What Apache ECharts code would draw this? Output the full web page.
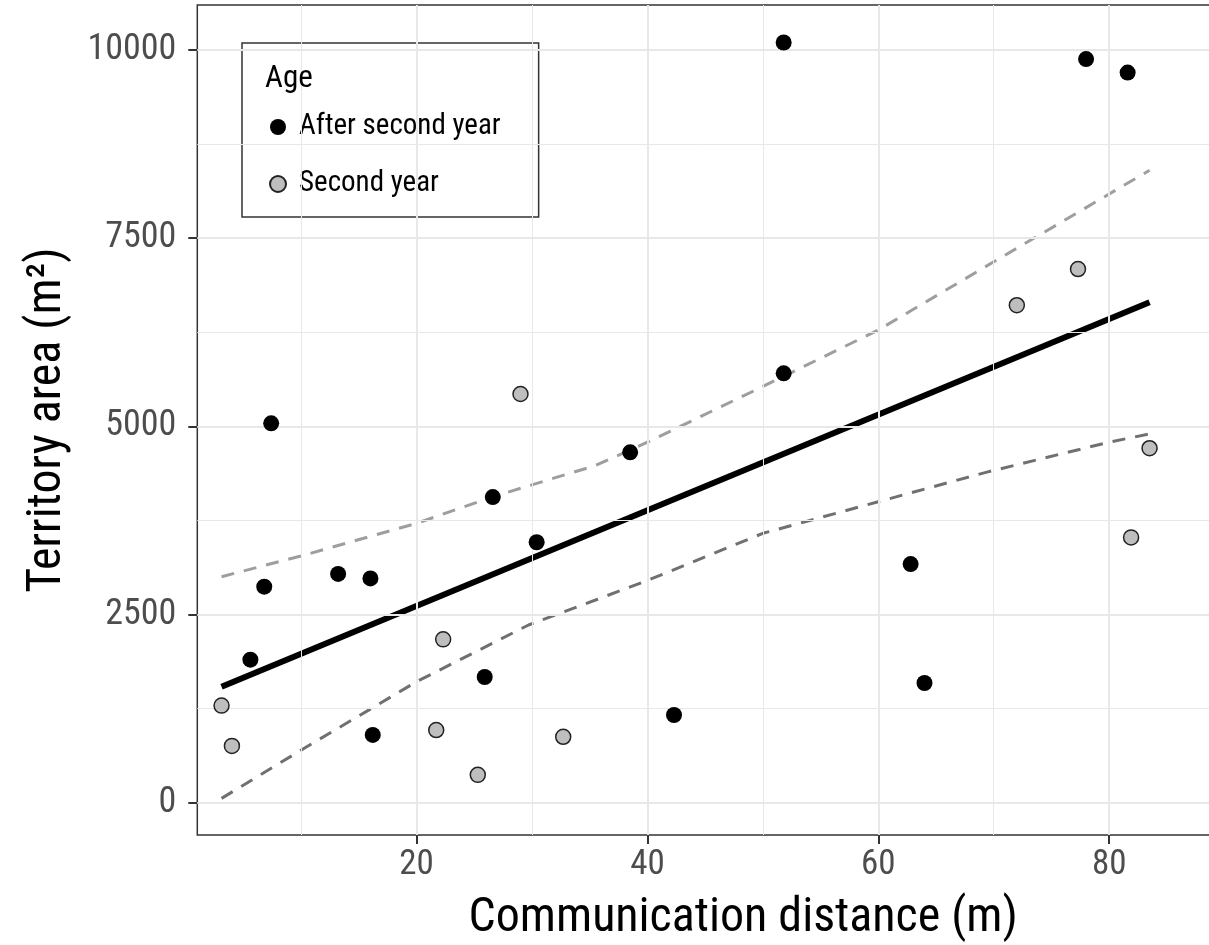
<!DOCTYPE html>
<html>
<head>
<meta charset="utf-8">
<script src="https://cdn.jsdelivr.net/npm/echarts@6/dist/echarts.min.js"></script>
<style>
html, body { margin: 0; padding: 0; background: #fff; }
#chartDom { width: 1209px; height: 945px; }
</style>
</head>
<body>
<div id="chartDom"></div>
<script>
// birds: after second year
var afterX = [5.6, 6.8, 7.4, 13.2, 16.0, 16.2, 25.9, 26.6, 30.4, 38.5, 42.3, 51.8, 51.8, 62.8, 64.0, 78.0, 81.6];
var afterY = [1900, 2870, 5040, 3040, 2980, 900, 1670, 4060, 3460, 4655, 1165, 10100, 5705, 3170, 1590, 9880, 9700];
// birds: second year
var secondX = [3.1, 4.0, 21.7, 22.3, 25.3, 29.0, 32.7, 72.0, 77.3, 81.9, 83.5];
var secondY = [1290, 755, 965, 2170, 370, 5430, 875, 6610, 7090, 3525, 4710];
// fitted line + confidence band
var fitX = [3.1, 83.5];
var fitY = [1540, 6650];
var upperX = [3.1, 10.3, 20.0, 26.6, 35.5, 40.1, 50.0, 60.0, 70.0, 83.5];
var upperY = [3003, 3291, 3712, 4065, 4480, 4796, 5530, 6280, 7186, 8402];
var lowerX = [3.1, 10.3, 20.0, 29.7, 35.5, 40.1, 50.0, 60.0, 69.4, 80.0, 83.5];
var lowerY = [58, 727, 1608, 2361, 2693, 2959, 3579, 3999, 4392, 4790, 4900];
// ticks
var xTicks = [20, 40, 60, 80];
var xMinor = [10, 30, 50, 70, 90];
var yTicks = [0, 2500, 5000, 7500, 10000];
var yMinor = [1250, 3750, 6250, 8750];

var fontName = '"Roboto Condensed", "Liberation Sans Narrow", "DejaVu Sans Condensed", Roboto, sans-serif';

function zip(xs, ys) {
  return xs.map(function (x, i) { return [x, ys[i]]; });
}

var gridLines = [];
xTicks.forEach(function (v) { gridLines.push({ xAxis: v, lineStyle: { width: 2 } }); });
yTicks.forEach(function (v) { gridLines.push({ yAxis: v, lineStyle: { width: 2 } }); });
xMinor.forEach(function (v) { gridLines.push({ xAxis: v, lineStyle: { width: 1 } }); });
yMinor.forEach(function (v) { gridLines.push({ yAxis: v, lineStyle: { width: 1 } }); });

var chartDom = document.getElementById('chartDom');
var myChart = echarts.init(chartDom);
var option = {
  animation: false,
  backgroundColor: '#fff',
  textStyle: { fontFamily: fontName },
  grid: {
    left: 197.3,
    top: 5,
    right: -80,
    bottom: 110,
    show: true,
    backgroundColor: '#fff',
    borderColor: '#333',
    borderWidth: 1.5,
    containLabel: false,
    outerBoundsMode: 'none'
  },
  legend: {
    data: ['After second year', 'Second year'],
    orient: 'vertical',
    left: 242,
    top: 43,
    padding: [69, 38, 18, 27],
    itemWidth: 16,
    itemHeight: 16,
    itemGap: 27,
    backgroundColor: '#fff',
    borderColor: '#333',
    borderWidth: 1.5,
    textStyle: { fontSize: 29, color: '#000', fontFamily: fontName, lineHeight: 30, padding: [0, 0, 0, 8] }
  },
  graphic: [{
    type: 'text',
    left: 265,
    top: 64,
    z: 100,
    style: { text: 'Age', fontSize: 31, fill: '#000', fontFamily: fontName }
  }],
  xAxis: {
    type: 'value',
    min: 1,
    max: 95.58,
    splitLine: { show: false },
    axisLine: { show: false, onZero: false },
    axisTick: { show: true, customValues: xTicks, length: 9, lineStyle: { color: '#333', width: 2 } },
    axisLabel: { customValues: xTicks, fontSize: 35, color: '#4d4d4d', margin: 13, fontFamily: fontName },
    name: 'Communication distance (m)',
    nameLocation: 'middle',
    nameGap: 60,
    nameTextStyle: { fontSize: 48, color: '#000', fontFamily: fontName }
  },
  yAxis: {
    type: 'value',
    min: -429,
    max: 10598,
    splitLine: { show: false },
    axisLine: { show: false, onZero: false },
    axisTick: { show: true, customValues: yTicks, length: 9, lineStyle: { color: '#333', width: 2 } },
    axisLabel: {
      customValues: yTicks,
      fontSize: 36,
      color: '#4d4d4d',
      margin: 21,
      fontFamily: fontName,
      formatter: function (v) { return String(v); }
    },
    name: 'Territory area (m²)',
    nameLocation: 'middle',
    nameGap: 125,
    nameTextStyle: { fontSize: 48, color: '#000', fontFamily: fontName }
  },
  series: [
    {
      name: 'grid',
      type: 'line',
      data: [],
      z: 1,
      silent: true,
      markLine: {
        silent: true,
        animation: false,
        symbol: ['none', 'none'],
        label: { show: false },
        lineStyle: { color: '#e8e8e8', type: 'solid', width: 1 },
        emphasis: { disabled: true },
        data: gridLines
      }
    },
    {
      name: 'upper',
      type: 'line',
      data: zip(upperX, upperY),
      showSymbol: false,
      symbol: 'none',
      silent: true,
      z: 2,
      lineStyle: { color: '#9e9e9e', width: 3, type: [13, 10] }
    },
    {
      name: 'lower',
      type: 'line',
      data: zip(lowerX, lowerY),
      showSymbol: false,
      symbol: 'none',
      silent: true,
      z: 2,
      lineStyle: { color: '#707070', width: 3, type: [13, 10] }
    },
    {
      name: 'fit',
      type: 'line',
      data: zip(fitX, fitY),
      showSymbol: false,
      symbol: 'none',
      silent: true,
      z: 3,
      lineStyle: { color: '#000', width: 6 }
    },
    {
      name: 'After second year',
      type: 'scatter',
      data: zip(afterX, afterY),
      symbol: 'circle',
      symbolSize: 16,
      z: 5,
      itemStyle: { color: '#000', opacity: 1 }
    },
    {
      name: 'Second year',
      type: 'scatter',
      data: zip(secondX, secondY),
      symbol: 'circle',
      symbolSize: 15,
      z: 5,
      itemStyle: { color: '#bebebe', borderColor: '#222', borderWidth: 1.5, opacity: 1 }
    }
  ]
};
option && myChart.setOption(option);
window.addEventListener('resize', function () {
  myChart.resize();
});
</script>
</body>
</html>
